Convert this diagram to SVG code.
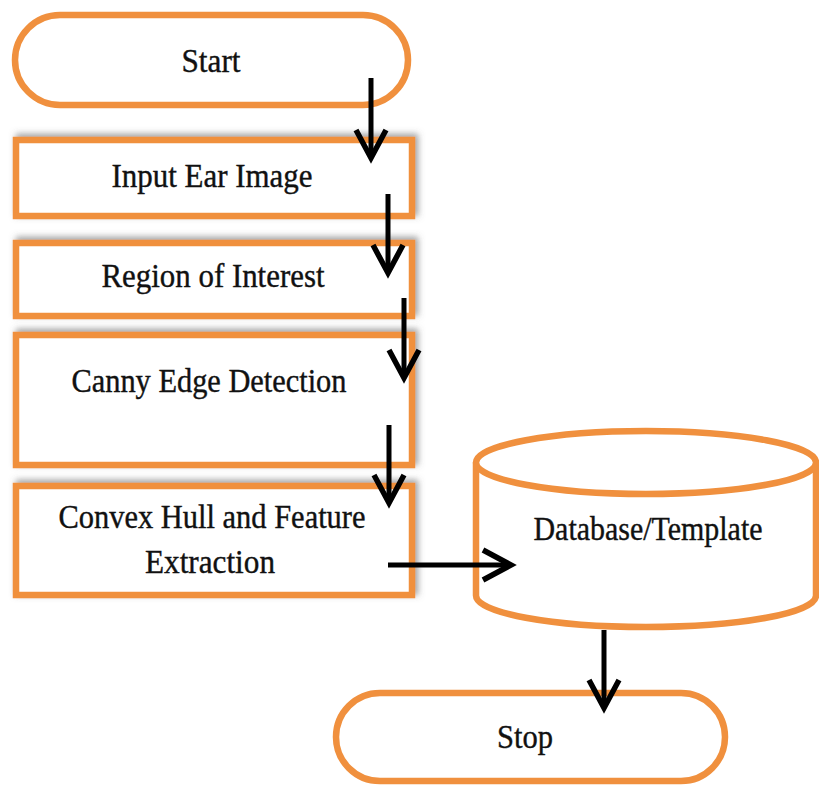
<svg xmlns="http://www.w3.org/2000/svg" width="819" height="786" viewBox="0 0 819 786">
<style>
.box{fill:#fff;stroke:#F0903E;stroke-width:6.5}
.sh{filter:url(#shadow)}
.lbl{font-family:"Liberation Serif","Times New Roman",serif;font-size:34px;fill:#111;text-anchor:middle;stroke:#111;stroke-width:0.4}
.con{fill:none;stroke:#000;stroke-width:5;marker-end:url(#ah)}
</style>
<defs>
<filter id="shadow" x="-10%" y="-20%" width="120%" height="140%">
<feDropShadow dx="3" dy="-3" stdDeviation="3" flood-color="#555" flood-opacity="0.55"/>
</filter>
<marker id="ah" markerUnits="userSpaceOnUse" viewBox="-34 -20 40 40" refX="0" refY="0" markerWidth="40" markerHeight="40" orient="auto" overflow="visible">
<path d="M-28,-15 L0,0 L-28,15" fill="none" stroke="#000" stroke-width="5.5"/>
</marker>
</defs>
<g id="start">
<rect class="box" x="15" y="15" width="393" height="90" rx="45"/>
<text class="lbl" x="211" y="72" textLength="59" lengthAdjust="spacingAndGlyphs">Start</text>
</g>
<g id="input">
<rect class="box sh" x="16" y="140" width="396" height="76"/>
<text class="lbl" x="212" y="187" textLength="201" lengthAdjust="spacingAndGlyphs">Input Ear Image</text>
</g>
<g id="roi">
<rect class="box sh" x="16" y="243" width="396" height="73"/>
<text class="lbl" x="213" y="287" textLength="223" lengthAdjust="spacingAndGlyphs">Region of Interest</text>
</g>
<g id="canny">
<rect class="box sh" x="16" y="335" width="396" height="130"/>
<text class="lbl" x="209" y="392" textLength="275" lengthAdjust="spacingAndGlyphs">Canny Edge Detection</text>
</g>
<g id="convex">
<rect class="box sh" x="16" y="486" width="396" height="109"/>
<text class="lbl" x="212" y="528" textLength="307" lengthAdjust="spacingAndGlyphs">Convex Hull and Feature</text>
<text class="lbl" x="210" y="573" textLength="130" lengthAdjust="spacingAndGlyphs">Extraction</text>
</g>
<g id="database">
<path class="box" d="M476,462.5 L476,595.5 A170,31.5 0 0 0 816,595.5 L816,462.5"/>
<ellipse class="box" cx="646" cy="462.5" rx="170" ry="31.5"/>
<text class="lbl" x="648" y="540" textLength="229" lengthAdjust="spacingAndGlyphs">Database/Template</text>
</g>
<g id="stop">
<rect class="box" x="336" y="693" width="389" height="88" rx="44"/>
<text class="lbl" x="525" y="748" textLength="56" lengthAdjust="spacingAndGlyphs">Stop</text>
</g>
<g id="connectors">
<path class="con" d="M371,78 L371,158"/>
<path class="con" d="M388,194 L388,273"/>
<path class="con" d="M404,298 L404,378"/>
<path class="con" d="M389,425 L389,503"/>
<path class="con" d="M388,565 L511,565"/>
<path class="con" d="M604,630 L604,708"/>
</g>
</svg>
